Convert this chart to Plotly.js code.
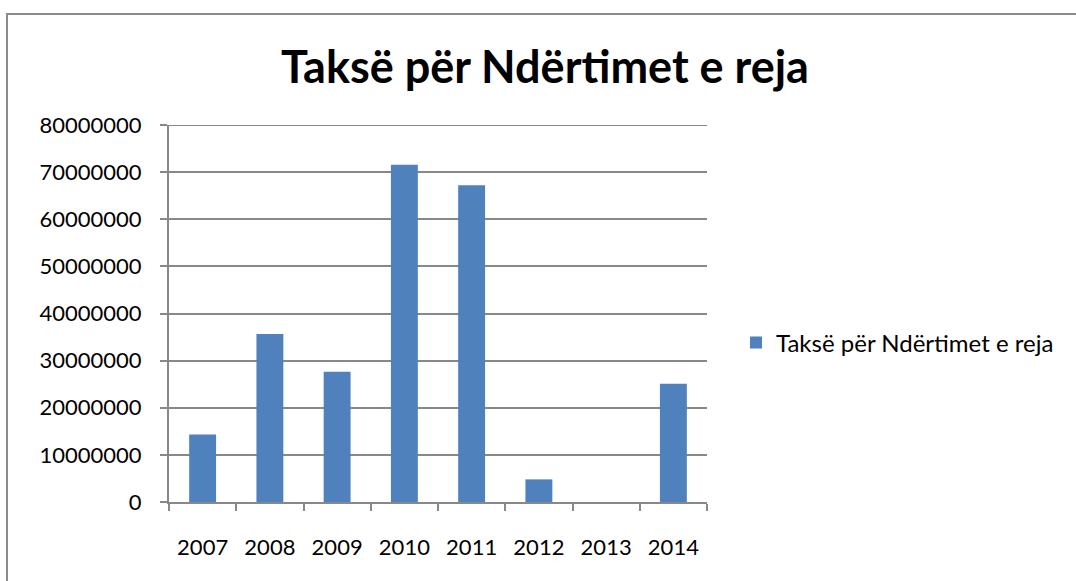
<!DOCTYPE html>
<html>
<head>
<meta charset="utf-8">
<script src="https://cdn.plot.ly/plotly-3.0.1.min.js"></script>
<style>
  html, body { margin: 0; padding: 0; background: #fff; }
  #wrap { position: relative; width: 1076px; height: 581px; overflow: hidden; }
  #chart { width: 1076px; height: 581px; }
  #frame { position: absolute; left: 6px; top: 13px; width: 1200px; height: 700px;
           border: 2px solid #8c8c8c; pointer-events: none; box-sizing: border-box; }
</style>
</head>
<body>
<div id="wrap">
  <div id="chart"></div>
  <div id="frame"></div>
</div>
<script>
const years = ["2007", "2008", "2009", "2010", "2011", "2012", "2013", "2014"];
const values = [14300000, 35650000, 27650000, 71550000, 67200000, 4800000, 0, 25070000];
const seriesName = "Taksë për Ndërtimet e reja";
const chartTitle = "Taksë për Ndërtimet e reja";
const yMax = 80000000;

const FONT = "Lato, 'Open Sans', sans-serif";
const GRID = "#888888";

const trace = {
  type: "bar",
  x: years,
  y: values,
  name: seriesName,
  marker: { color: "#4F81BD", line: { width: 0 } },
  showlegend: true
};

const layout = {
  width: 1076,
  height: 581,
  paper_bgcolor: "#ffffff",
  plot_bgcolor: "#ffffff",
  margin: { l: 169, r: 369, t: 125, b: 79, pad: 0 },
  bargap: 0.6,
  showlegend: true,
  font: { family: FONT, size: 22, color: "#000000" },
  title: {
    text: "<b>" + chartTitle + "</b>",
    font: { family: FONT, size: 45, color: "#000000" },
    x: 545 / 1076,
    xanchor: "center",
    y: 1 - 67 / 581,
    yanchor: "middle"
  },
  xaxis: {
    type: "category",
    tickson: "boundaries",
    ticks: "outside",
    ticklen: 7,
    tickwidth: 2,
    tickcolor: GRID,
    showline: true,
    linecolor: GRID,
    linewidth: 2,
    showgrid: false,
    ticklabelstandoff: 25,
    tickfont: { family: FONT, size: 22, color: "#000" },
    fixedrange: true
  },
  yaxis: {
    range: [0, yMax],
    dtick: 10000000,
    tick0: 0,
    tickformat: "d",
    ticks: "outside",
    ticklen: 7,
    tickwidth: 2,
    tickcolor: GRID,
    showline: true,
    linecolor: GRID,
    linewidth: 2,
    showgrid: true,
    gridcolor: GRID,
    gridwidth: 2,
    zeroline: false,
    ticklabelstandoff: 14,
    tickfont: { family: FONT, size: 22, color: "#000" },
    fixedrange: true
  },
  shapes: [{
    type: "line", layer: "below",
    xref: "paper", x0: 0, x1: 1,
    yref: "y", y0: yMax, y1: yMax,
    line: { color: GRID, width: 2 }
  }],
  legend: {
    x: (736 - 169) / 538,
    xanchor: "left",
    y: (502 - 343) / 377,
    yanchor: "middle",
    font: { family: FONT, size: 24, color: "#000" },
    bgcolor: "rgba(0,0,0,0)",
    itemwidth: 30
  }
};

Plotly.newPlot("chart", [trace], layout, { displayModeBar: false, staticPlot: true });
</script>
</body>
</html>
